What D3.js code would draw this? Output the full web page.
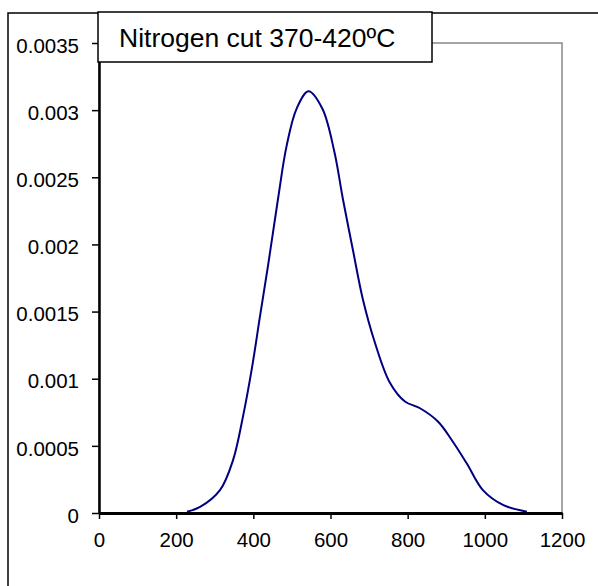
<!DOCTYPE html>
<html lang="en">
<head>
    <meta charset="UTF-8">
    <title>Nitrogen cut</title>
    <style>
        body { margin: 0; background: #fff; }
        svg { font-family: "Liberation Sans", Arial, sans-serif; }
    </style>
</head>
<body>
    <script src="https://d3js.org/d3.v7.min.js"></script>
    <script>
        const w = 598;
        const h = 586;

        // values
        const xValues = [228, 262, 314, 347, 373, 397, 417, 438, 464, 486, 512, 543, 579, 610, 632, 658, 684, 715, 754, 793, 832, 879, 915, 953, 995, 1047, 1109];
        const yValues = [0.00001, 0.000045, 0.000172, 0.00039, 0.000716, 0.00109, 0.00146, 0.00184, 0.00234, 0.00273, 0.00301, 0.00314, 0.00301, 0.00269, 0.00234, 0.00196, 0.00159, 0.00127, 0.00097, 0.00083, 0.00078, 0.00068, 0.00054, 0.00037, 0.00017, 0.00006, 0.00001];
        const xTicks = [0, 200, 400, 600, 800, 1000, 1200];
        const yTicks = [0, 0.0005, 0.001, 0.0015, 0.002, 0.0025, 0.003, 0.0035];
        const title = "Nitrogen cut 370-420ºC";

        const plotLeft = 99, plotRight = 562, plotTop = 43, plotBottom = 513;

        const svg = d3.select("body")
                      .append("svg")
                      .attr("width", w)
                      .attr("height", h);

        // outer chart border (only left and top show)
        svg.append("rect")
           .attr("x", 8)
           .attr("y", 13)
           .attr("width", w + 20)
           .attr("height", h + 20)
           .attr("fill", "#fff")
           .attr("stroke", "#000")
           .attr("stroke-width", 1.5);

        const xScale = d3.scaleLinear().domain([0, 1200]).range([plotLeft, plotRight]);
        const yScale = d3.scaleLinear().domain([0, 0.0035]).range([plotBottom, plotTop]);

        // plot area border
        svg.append("rect")
           .attr("x", plotLeft)
           .attr("y", plotTop)
           .attr("width", plotRight - plotLeft)
           .attr("height", plotBottom - plotTop)
           .attr("fill", "none")
           .attr("stroke", "#888")
           .attr("stroke-width", 1.5);

        const yAxis = d3.axisLeft(yScale)
                        .tickValues(yTicks)
                        .tickFormat(d => String(+d.toFixed(4)))
                        .tickSize(7)
                        .tickSizeOuter(0)
                        .tickPadding(13);
        const gy = svg.append("g")
           .attr("transform", `translate(${plotLeft}, 0)`)
           .call(yAxis);
        gy.select(".domain").attr("stroke-width", 2.5);
        gy.selectAll(".tick line").attr("stroke-width", 1.5);
        gy.selectAll("text")
          .attr("font-size", 20.5)
          .attr("dy", "0.45em")
          .attr("fill", "#000");

        const xAxis = d3.axisBottom(xScale)
                        .tickValues(xTicks)
                        .tickFormat(d3.format("d"))
                        .tickSize(6)
                        .tickSizeOuter(0)
                        .tickPadding(13);
        const gx = svg.append("g")
           .attr("transform", `translate(0, ${plotBottom})`)
           .call(xAxis);
        gx.select(".domain").attr("stroke-width", 3);
        gx.selectAll(".tick line").attr("stroke-width", 1.5);
        gx.selectAll("text").attr("font-size", 20.5).attr("fill", "#000");

        const pts = xValues.map((x, i) => [x, yValues[i]]);
        const line = d3.line()
                       .x(d => xScale(d[0]))
                       .y(d => yScale(d[1]))
                       .curve(d3.curveCatmullRom);
        svg.append("path")
           .datum(pts)
           .attr("d", line)
           .attr("fill", "none")
           .attr("stroke", "#000080")
           .attr("stroke-width", 2);

        // title box
        svg.append("rect")
           .attr("x", 98)
           .attr("y", 12)
           .attr("width", 334)
           .attr("height", 50)
           .attr("fill", "#fff")
           .attr("stroke", "#000")
           .attr("stroke-width", 1.5);
        svg.append("text")
           .attr("x", 119)
           .attr("y", 47)
           .attr("font-size", 26.5)
           .text(title);
    </script>
</body>
</html>
